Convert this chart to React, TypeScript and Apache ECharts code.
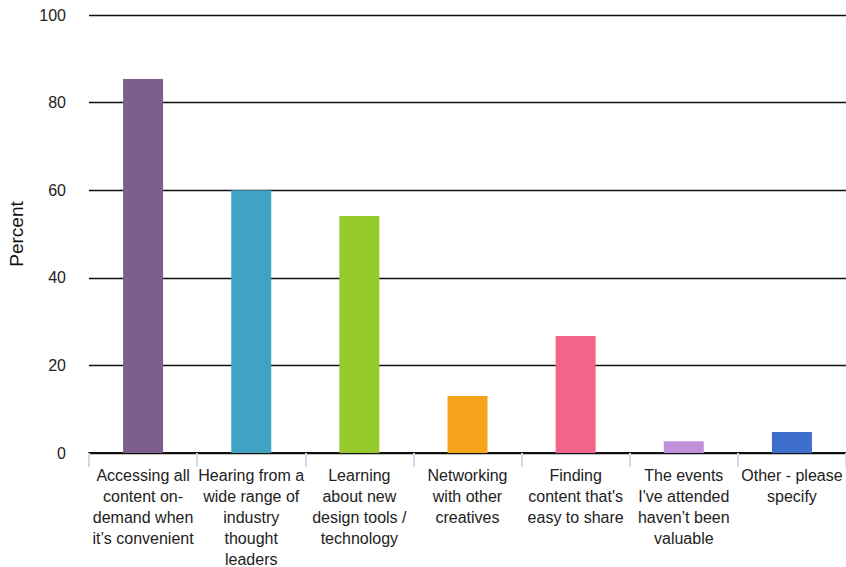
import React, { useEffect, useRef } from "react";
import * as echarts from "echarts";

const categories = [
  "Accessing all\ncontent on-\ndemand when\nit’s convenient",
  "Hearing from a\nwide range of\nindustry\nthought\nleaders",
  "Learning\nabout new\ndesign tools /\ntechnology",
  "Networking\nwith other\ncreatives",
  "Finding\ncontent that's\neasy to share",
  "The events\nI've attended\nhaven’t been\nvaluable",
  "Other - please\nspecify",
];
const values = [85.4, 60.0, 54.1, 13.0, 26.7, 2.7, 4.8];
const colors = ["#7D5F8E", "#41A3C4", "#96C92A", "#F5A31B", "#F06588", "#C090DA", "#3D6ECE"];
const yTicks = { min: 0, max: 100, interval: 20 };

export default function App() {
  const ref = useRef<HTMLDivElement>(null);
  useEffect(() => {
    const chart = echarts.init(ref.current!, null, { renderer: "svg" });
    chart.setOption({
      animation: false,
      backgroundColor: "#ffffff",
      textStyle: { fontFamily: "Liberation Sans, Arial, sans-serif" },
      grid: { left: 89, right: 0, top: 15, bottom: 114, containLabel: false, outerBoundsMode: "none" },
      xAxis: {
        type: "category",
        data: categories,
        axisLine: { show: true, lineStyle: { color: "#111", width: 2 } },
        axisTick: { show: true, alignWithLabel: false, length: 14, lineStyle: { color: "#d2daea", width: 2 } },
        axisLabel: {
          interval: 0,
          margin: 12,
          color: "#222",
          fontSize: 16,
          lineHeight: 21,
          hideOverlap: false,
          fontFamily: "Liberation Sans, Arial, sans-serif",
        },
      },
      yAxis: {
        type: "value",
        min: yTicks.min,
        max: yTicks.max,
        interval: yTicks.interval,
        name: "Percent",
        nameLocation: "middle",
        nameGap: 63,
        nameRotate: 90,
        nameTextStyle: { color: "#111", fontSize: 19, fontFamily: "Liberation Sans, Arial, sans-serif" },
        axisLine: { show: false },
        axisTick: { show: false },
        splitLine: { show: true, lineStyle: { color: "#111", width: 1.3 } },
        axisLabel: { color: "#222", fontSize: 16, margin: 23, fontFamily: "Liberation Sans, Arial, sans-serif" },
      },
      series: [
        {
          type: "bar",
          barWidth: 40,
          data: values.map((v, i) => ({ value: v, itemStyle: { color: colors[i] } })),
        },
      ],
    });
    return () => chart.dispose();
  }, []);
  return (
    <div
      ref={ref}
      style={{ position: "fixed", left: 0, top: 0, width: 846, height: 567 }}
    />
  );
}
